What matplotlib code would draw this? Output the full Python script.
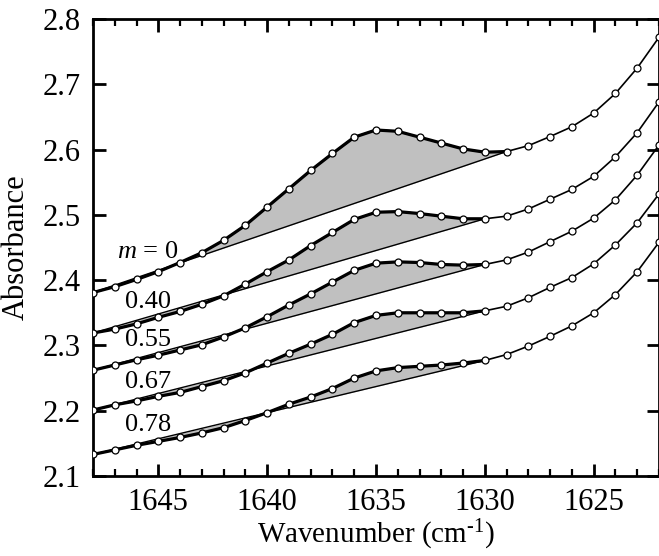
import numpy as np
import matplotlib.pyplot as plt

plt.rcParams['font.family'] = ['Liberation Serif', 'DejaVu Serif']
plt.rcParams['mathtext.fontset'] = 'custom'
plt.rcParams['mathtext.it'] = 'Liberation Serif:italic'
plt.rcParams['mathtext.rm'] = 'Liberation Serif'

# wavenumber grid (cm-1), one point per integer
wavenumber = [1648, 1647, 1646, 1645, 1644, 1643, 1642, 1641, 1640, 1639,
              1638, 1637, 1636, 1635, 1634, 1633, 1632, 1631, 1630, 1629,
              1628, 1627, 1626, 1625, 1624, 1623, 1622]

labels = ["$m$ = 0", "0.40", "0.55", "0.67", "0.78"]

abs_m000 = [2.381, 2.390, 2.401, 2.413, 2.427, 2.442, 2.461, 2.484, 2.512, 2.540,
            2.568, 2.594, 2.619, 2.630, 2.628, 2.619, 2.610, 2.601, 2.596, 2.597,
            2.606, 2.620, 2.635, 2.656, 2.686, 2.725, 2.772]
abs_m040 = [2.319, 2.325, 2.333, 2.343, 2.352, 2.363, 2.376, 2.394, 2.413, 2.431,
            2.453, 2.473, 2.493, 2.504, 2.505, 2.502, 2.498, 2.494, 2.494, 2.498,
            2.509, 2.524, 2.539, 2.559, 2.589, 2.626, 2.673]
abs_m055 = [2.262, 2.270, 2.278, 2.285, 2.293, 2.301, 2.313, 2.327, 2.344, 2.362,
            2.379, 2.397, 2.415, 2.426, 2.428, 2.427, 2.424, 2.423, 2.424, 2.431,
            2.443, 2.459, 2.475, 2.495, 2.523, 2.561, 2.607]
abs_m067 = [2.201, 2.209, 2.215, 2.222, 2.228, 2.237, 2.246, 2.258, 2.273, 2.288,
            2.302, 2.317, 2.335, 2.346, 2.350, 2.350, 2.350, 2.350, 2.353, 2.360,
            2.373, 2.389, 2.404, 2.425, 2.454, 2.488, 2.532]
abs_m078 = [2.133, 2.140, 2.147, 2.153, 2.159, 2.166, 2.174, 2.185, 2.197, 2.210,
            2.221, 2.234, 2.250, 2.261, 2.266, 2.268, 2.270, 2.273, 2.277, 2.286,
            2.299, 2.314, 2.330, 2.350, 2.378, 2.413, 2.458]
spectra = [abs_m000, abs_m040, abs_m055, abs_m067, abs_m078]

# baseline end points (wavenumber) for each band
base_start = [1648, 1648, 1648, 1648, 1648]
base_end = [1629, 1630, 1630, 1630, 1630]

# label anchor positions
label_x = [1646.9, 1646.55, 1646.55, 1646.55, 1646.55]
label_y = [2.4435, 2.367, 2.308, 2.244, 2.178]

fig = plt.figure(figsize=(6.59, 5.56), dpi=100)
ax = fig.add_axes([0.1411, 0.1439, 0.8589, 0.8219])

wn = np.array(wavenumber)
for spec, s0, s1 in zip(spectra, base_start, base_end):
    y = np.array(spec)
    i0 = wavenumber.index(s0)
    i1 = wavenumber.index(s1)
    seg_x = wn[i0:i1 + 1]
    seg_y = y[i0:i1 + 1]
    base = np.interp(seg_x, [s1, s0], [y[i1], y[i0]])
    ax.fill_between(seg_x, base, seg_y, color="#c0c0c0", lw=0, zorder=1)
    ax.plot([s0, s1], [y[i0], y[i1]], color="black", lw=1.0, zorder=2)
    ax.plot(seg_x, seg_y, color="black", lw=2.3, zorder=3)
    ax.plot(wn, y, color="black", lw=1.2, marker="o", markersize=5,
            markerfacecolor="white", markeredgecolor="black",
            markeredgewidth=0.9, zorder=4)

for lab, lx, ly in zip(labels, label_x, label_y):
    ax.text(lx, ly, lab, fontsize=19, ha="left", va="center")

ax.set_xlim(1648, 1622.15)
ax.set_ylim(2.1, 2.8)
ax.set_xticks([1645, 1640, 1635, 1630, 1625])
ax.set_xticks(np.arange(1622, 1649, 1), minor=True)
ax.set_yticks([2.1, 2.2, 2.3, 2.4, 2.5, 2.6, 2.7, 2.8])
ax.set_yticklabels(["2.1", "2.2", "2.3", "2.4", "2.5", "2.6", "2.7", "2.8"])

ax.tick_params(which="both", direction="in", top=True, right=True,
               labelsize=22, width=2)
ax.tick_params(which="major", length=9)
ax.tick_params(axis="x", which="major", pad=9)
ax.tick_params(axis="y", which="major", pad=9)
ax.tick_params(which="minor", length=5, width=1.6)
ax.tick_params(axis="y", which="minor", left=False, right=False)
for sp in ax.spines.values():
    sp.set_linewidth(2)

ax.set_xlabel(r"Wavenumber (cm$^{\text{-}1}$)", fontsize=21, labelpad=0)
ax.set_ylabel("Absorbance", fontsize=22, labelpad=8)

fig.savefig("out.png", dpi=100)
